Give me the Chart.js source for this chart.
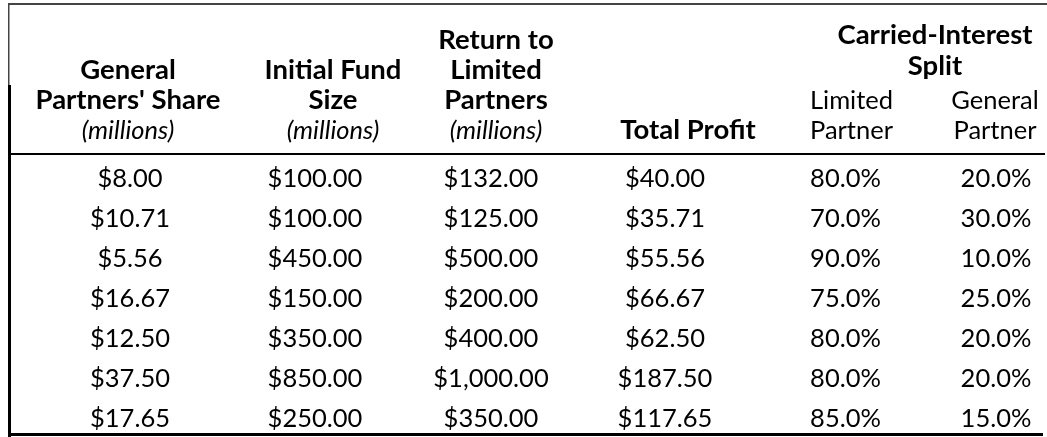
<!DOCTYPE html>
<html>
<head>
<meta charset="utf-8">
<script src="https://cdn.jsdelivr.net/npm/chart.js@4.4.1/dist/chart.umd.min.js"></script>
<style>
  html, body { margin: 0; padding: 0; background: #ffffff; }
  #wrap { width: 1047px; height: 437px; position: relative; }
</style>
</head>
<body>
<div id="wrap"><canvas id="c" width="1047" height="437"></canvas></div>
<script>
// ---------------- DATA ----------------
const rowIds = ['1', '2', '3', '4', '5', '6', '7'];
const columnKeys = ['gpShare', 'fundSize', 'returnLP', 'totalProfit', 'lpSplit', 'gpSplit'];

const gpShare     = [8.00, 10.71, 5.56, 16.67, 12.50, 37.50, 17.65];
const fundSize    = [100.00, 100.00, 450.00, 150.00, 350.00, 850.00, 250.00];
const returnLP    = [132.00, 125.00, 500.00, 200.00, 400.00, 1000.00, 350.00];
const totalProfit = [40.00, 35.71, 55.56, 66.67, 62.50, 187.50, 117.65];
const lpSplit     = [80.0, 70.0, 90.0, 75.0, 80.0, 80.0, 85.0];
const gpSplit     = [20.0, 30.0, 10.0, 25.0, 20.0, 20.0, 15.0];

const headerLines = [
  ['General', "Partners' Share", '(millions)'],
  ['Initial Fund', 'Size', '(millions)'],
  ['Return to', 'Limited', 'Partners', '(millions)'],
  ['Total Profit'],
  ['Limited', 'Partner'],
  ['General', 'Partner']
];
const headerLineStyles = [
  ['b', 'b', 'i'],
  ['b', 'b', 'i'],
  ['b', 'b', 'b', 'i'],
  ['b'],
  ['n', 'n'],
  ['n', 'n']
];
const groupHeader = ['Carried-Interest', 'Split'];
const columnFormats = ['money', 'money', 'money', 'money', 'pct', 'pct'];

// ---------------- STYLE / LAYOUT ----------------
const FONT = 'Lato, "Open Sans", "Noto Sans", sans-serif';
const FS = 25.5;
const FS_BOLD = 27.5;
const colWidths = [226, 174, 174, 176, 175, 110];    // cell widths (table units)
const dataNudge = [9, -6, -4, -5, 0, 8];
const headNudge = [7, 12, 1, 18, 6, 7];
const headerLastBaseline = 139;
const headerLineGap = 30;
const groupBaselines = [44, 75];
const groupNudge = 2;
const rowBaselineOffset = 13;

const allColumns = [gpShare, fundSize, returnLP, totalProfit, lpSplit, gpSplit];

function fmt(v, kind) {
  if (kind === 'pct') return v.toFixed(1) + '%';
  return '$' + v.toLocaleString('en-US', { minimumFractionDigits: 2, maximumFractionDigits: 2 });
}

const colStarts = [];
{ let s = 0; colWidths.forEach(w => { colStarts.push(s); s += w; }); }
const totalWidth = colWidths.reduce((a, b) => a + b, 0);

const datasets = columnKeys.map((key, c) => ({
  label: key,
  data: allColumns[c].map((v, r) => ({ x: colStarts[c] + colWidths[c] / 2, y: rowIds[r], v: v })),
  pointRadius: 0,
  pointHoverRadius: 0,
  showLine: false
}));

function fontFor(st) {
  if (st === 'b') return 'bold ' + FS_BOLD + 'px ' + FONT;
  if (st === 'i') return 'italic ' + FS + 'px ' + FONT;
  return FS + 'px ' + FONT;
}

const tablePlugin = {
  id: 'tableText',
  afterDatasetsDraw(chart) {
    const ctx = chart.ctx;
    const ca = chart.chartArea;
    const xs = chart.scales.x;
    ctx.save();

    // borders
    ctx.fillStyle = '#444444';
    ctx.fillRect(ca.left, 3, chart.width - ca.left, 2);       // top border
    ctx.fillRect(ca.left, 3, 1.5, 82);                         // left thin border (header)
    ctx.fillStyle = '#000000';
    ctx.fillRect(ca.left, 85, 3, ca.bottom + 3 - 85);          // left thick border
    ctx.fillRect(ca.left, ca.top - 1, chart.width - 2 - ca.left, 2); // header rule
    ctx.fillRect(ca.left, ca.bottom - 1, ca.right - ca.left, 3);     // bottom border

    ctx.textAlign = 'center';
    ctx.textBaseline = 'alphabetic';
    ctx.fillStyle = '#000000';

    // headers
    headerLines.forEach((lines, c) => {
      const cx = xs.getPixelForValue(colStarts[c] + colWidths[c] / 2) + headNudge[c];
      const n = lines.length;
      lines.forEach((t, k) => {
        ctx.font = fontFor(headerLineStyles[c][k]);
        const y = headerLastBaseline - (n - 1 - k) * headerLineGap;
        ctx.fillText(t, cx, y);
      });
    });
    // group header spanning the two split columns
    const gx = xs.getPixelForValue(colStarts[4] + colWidths[4]) + groupNudge;
    ctx.font = fontFor('b');
    groupHeader.forEach((t, k) => ctx.fillText(t, gx, groupBaselines[k]));

    // body cells
    ctx.font = fontFor('n');
    chart.data.datasets.forEach((ds, c) => {
      const meta = chart.getDatasetMeta(c);
      meta.data.forEach((pt, r) => {
        ctx.fillText(fmt(ds.data[r].v, columnFormats[c]), pt.x + dataNudge[c], pt.y + rowBaselineOffset);
      });
    });
    ctx.restore();
  }
};

new Chart(document.getElementById('c'), {
  type: 'scatter',
  data: { datasets: datasets },
  options: {
    responsive: false,
    animation: false,
    devicePixelRatio: 1,
    layout: { padding: { left: 8, right: 4, top: 154, bottom: 3 } },
    plugins: { legend: { display: false }, tooltip: { enabled: false } },
    events: [],
    scales: {
      x: { type: 'linear', min: 0, max: totalWidth, display: false },
      y: { type: 'category', labels: rowIds, offset: true, display: false }
    }
  },
  plugins: [tablePlugin]
});
</script>
</body>
</html>
